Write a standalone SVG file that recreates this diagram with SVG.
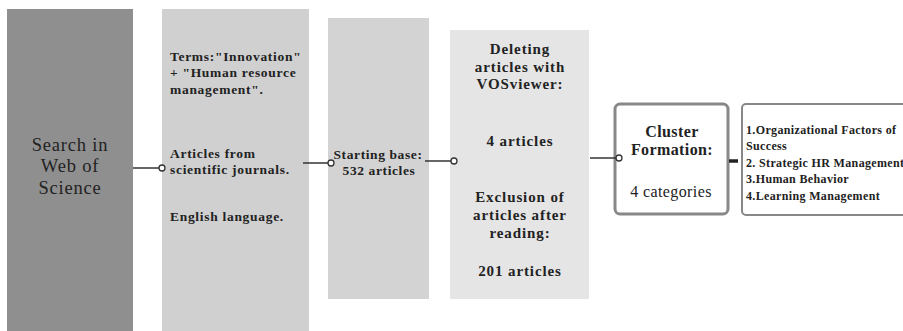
<svg xmlns="http://www.w3.org/2000/svg" width="903" height="331" viewBox="0 0 903 331">
<style>
text{font-family:'Liberation Serif','Times New Roman',serif;fill:#222;}
.b{font-weight:bold;}
.c{text-anchor:middle;}
.ln{stroke:#333;stroke-width:1.5;fill:none;}
.dot{fill:#fff;stroke:#333;stroke-width:1.3;}
</style>
<rect width="903" height="331" fill="#fff"/>
<g id="node-search">
<rect x="7" y="9" width="126" height="322" fill="#8f8f8f"/>
<text class="c" x="70" font-size="18.5" letter-spacing="0.8"><tspan x="70" y="151">Search in</tspan><tspan x="70" y="172">Web of</tspan><tspan x="70" y="194">Science</tspan></text>
</g>
<g id="node-criteria">
<rect x="162" y="9" width="147" height="322" fill="#d0d0d0"/>
<text class="b" font-size="13.5" letter-spacing="0.7"><tspan x="170" y="61">Terms:"Innovation"</tspan><tspan x="170" y="77">+ "Human resource</tspan><tspan x="170" y="94">management".</tspan><tspan x="170" y="158">Articles from</tspan><tspan x="170" y="174">scientific journals.</tspan><tspan x="170" y="221">English language.</tspan></text>
</g>
<g id="node-base">
<rect x="328" y="18" width="101" height="281" fill="#d3d3d3"/>
<text class="b c" font-size="13.5" letter-spacing="0.6"><tspan x="378" y="159">Starting base:</tspan><tspan x="379" y="175">532 articles</tspan></text>
</g>
<g id="node-delete">
<rect x="450" y="30" width="139" height="269" fill="#e5e5e5"/>
<text class="b c" font-size="15" letter-spacing="0.9"><tspan x="520" y="54">Deleting</tspan><tspan x="520" y="72">articles with</tspan><tspan x="520" y="89">VOSviewer:</tspan><tspan x="520" y="146">4 articles</tspan><tspan x="520" y="202">Exclusion of</tspan><tspan x="520" y="220">articles after</tspan><tspan x="520" y="238">reading:</tspan><tspan x="520" y="276">201 articles</tspan></text>
</g>
<g id="node-cluster">
<rect x="615" y="104" width="113" height="110" rx="5" fill="#fff" stroke="#888" stroke-width="3"/>
<text class="b c" font-size="16" letter-spacing="0.4"><tspan x="672" y="137">Cluster</tspan><tspan x="672" y="155">Formation:</tspan></text>
<text class="c" x="671" y="197" font-size="16" letter-spacing="0.4">4 categories</text>
</g>
<g id="node-categories">
<rect x="742" y="104" width="170" height="111" rx="4" fill="#fff" stroke="#888" stroke-width="2"/>
<text class="b" font-size="12" letter-spacing="0.35"><tspan x="746" y="134">1.Organizational Factors of</tspan><tspan x="746" y="150">Success</tspan><tspan x="746" y="167">2. Strategic HR Management</tspan><tspan x="746" y="183">3.Human Behavior</tspan><tspan x="746" y="200">4.Learning Management</tspan></text>
</g>
<g id="connectors">
<line class="ln" x1="133" y1="168" x2="159" y2="168"/>
<circle class="dot" cx="162" cy="168" r="3"/>
<line class="ln" x1="303" y1="163" x2="328" y2="163"/>
<circle class="dot" cx="331" cy="163" r="3"/>
<line class="ln" x1="425" y1="161" x2="451" y2="161"/>
<circle class="dot" cx="454" cy="161" r="3"/>
<line class="ln" x1="590" y1="158" x2="616" y2="158"/>
<circle class="dot" cx="619" cy="158" r="3"/>
<line x1="729" y1="161" x2="738" y2="161" stroke="#222" stroke-width="3.5"/>
</g>
</svg>
